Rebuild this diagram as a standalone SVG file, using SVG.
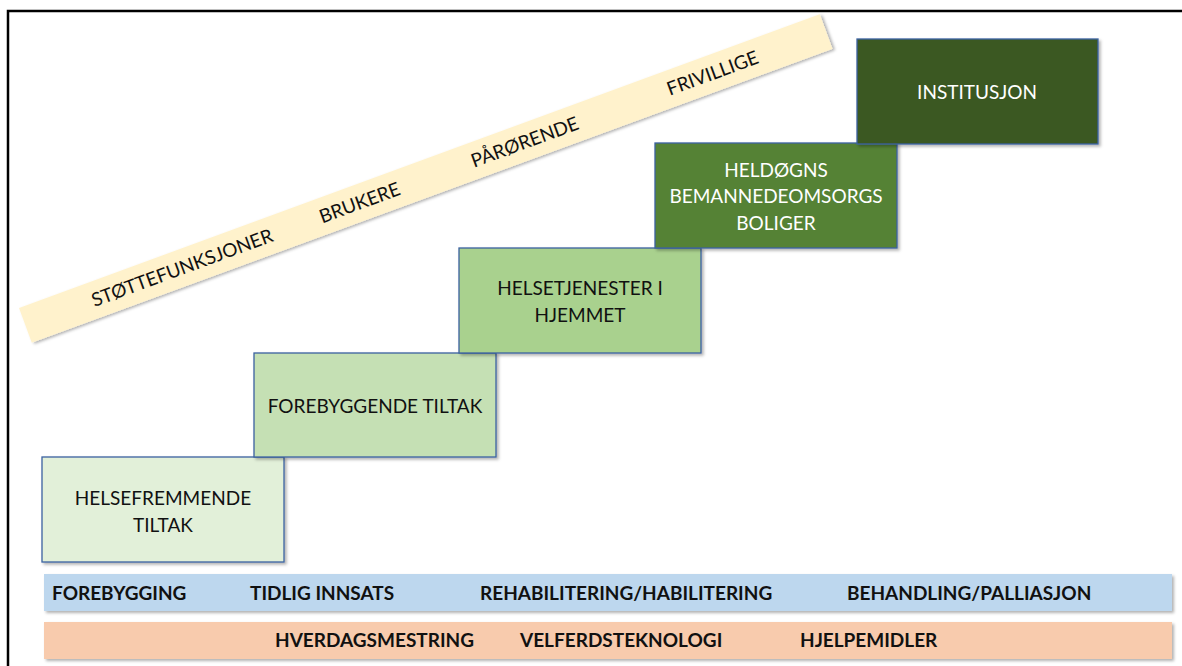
<svg xmlns="http://www.w3.org/2000/svg" width="1182" height="666" viewBox="0 0 1182 666">
<defs>
<filter id="sh" x="-10%" y="-10%" width="130%" height="130%">
<feDropShadow dx="2" dy="2" stdDeviation="1.5" flood-color="#000" flood-opacity="0.3"/>
</filter>
<style>
.box{stroke:#3c62a0;stroke-width:1.3;filter:url(#sh)}
.t{font-family:Lato,"Open Sans",sans-serif;font-size:19px;text-anchor:middle;fill:#111}
.w{fill:#fff}
.b{font-family:Lato,"Open Sans",sans-serif;font-size:19px;font-weight:bold;fill:#111}
.bt{font-family:Lato,"Open Sans",sans-serif;font-size:19px;text-anchor:middle;fill:#111}
</style>
</defs>
<rect width="1182" height="666" fill="#fff"/>
<path d="M8 666 V11 H1182" fill="none" stroke="#000" stroke-width="2.5"/>
<g id="banner" transform="translate(19,308) rotate(-20.15)">
<rect x="0" y="0" width="853" height="37" fill="#fff2cc" filter="url(#sh)"/>
<text class="bt" x="167" y="25">STØTTEFUNKSJONER</text>
<text class="bt" x="356" y="25">BRUKERE</text>
<text class="bt" x="532" y="25">PÅRØRENDE</text>
<text class="bt" x="732" y="25">FRIVILLIGE</text>
</g>
<g id="helsefremmende">
<rect class="box" x="42" y="457" width="242" height="105" fill="#e2f0d9"/>
<text class="t" x="163" y="505">HELSEFREMMENDE</text>
<text class="t" x="163" y="532">TILTAK</text>
</g>
<g id="forebyggende">
<rect class="box" x="254" y="353" width="242" height="104" fill="#c5e0b4"/>
<text class="t" x="375" y="413">FOREBYGGENDE TILTAK</text>
</g>
<g id="helsetjenester">
<rect class="box" x="459" y="248" width="242" height="105" fill="#a9d18e"/>
<text class="t" x="580" y="295">HELSETJENESTER I</text>
<text class="t" x="580" y="322">HJEMMET</text>
</g>
<g id="heldogns">
<rect class="box" x="655" y="143" width="242" height="105" fill="#548235"/>
<text class="t w" x="776" y="177">HELDØGNS</text>
<text class="t w" x="776" y="203">BEMANNEDEOMSORGS</text>
<text class="t w" x="776" y="230">BOLIGER</text>
</g>
<g id="institusjon">
<rect class="box" x="857" y="39" width="241" height="105" fill="#3b5823"/>
<text class="t w" x="977" y="99">INSTITUSJON</text>
</g>
<g id="bar1">
<rect x="44" y="574" width="1128" height="37" fill="#bdd7ee" filter="url(#sh)"/>
<text class="b" x="52" y="600">FOREBYGGING</text>
<text class="b" x="250" y="600">TIDLIG INNSATS</text>
<text class="b" x="480" y="600">REHABILITERING/HABILITERING</text>
<text class="b" x="847" y="600">BEHANDLING/PALLIASJON</text>
</g>
<g id="bar2">
<rect x="44" y="622" width="1128" height="37" fill="#f8cbad" filter="url(#sh)"/>
<text class="b" x="275" y="647">HVERDAGSMESTRING</text>
<text class="b" x="520" y="647">VELFERDSTEKNOLOGI</text>
<text class="b" x="800" y="647">HJELPEMIDLER</text>
</g>
<g id="connectors"></g>
</svg>
